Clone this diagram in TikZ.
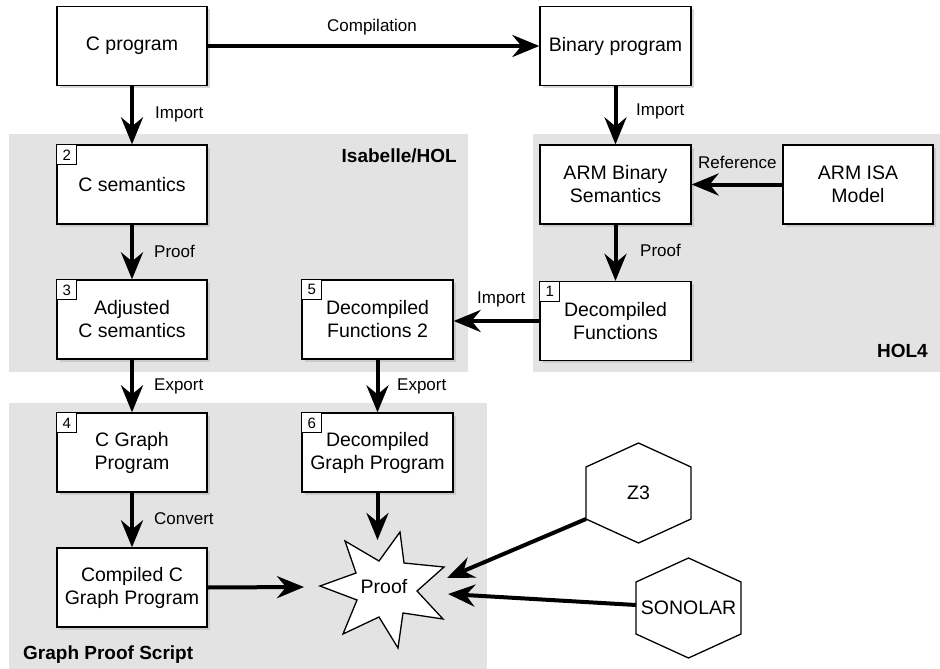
\documentclass[tikz,border=0pt]{standalone}
\usepackage{fontspec}
\setmainfont{Liberation Sans}
\usetikzlibrary{arrows.meta,shadows,calc}
\definecolor{regiongray}{RGB}{227,227,227}
\tikzset{
  mainf/.style={font=\fontsize{19.5}{23}\selectfont},
  box/.style={draw, line width=1.3pt, fill=white, minimum width=150pt, minimum height=79pt,
    inner sep=0pt, align=center, mainf,
    drop shadow={shadow xshift=2.5pt, shadow yshift=-2.5pt, fill=black!30}},
  numbox/.style={draw, line width=1pt, fill=white, minimum size=20pt, inner sep=0pt,
    anchor=north west, font=\fontsize{15}{15}\selectfont},
  arr/.style={line width=4pt, -{Stealth[length=27pt, width=22pt, inset=9pt]}},
  lbl/.style={font=\fontsize{17}{20}\selectfont, inner sep=0pt},
  region/.style={font=\bfseries\fontsize{19}{22}\selectfont, inner sep=0pt},
  shapeline/.style={draw, line width=1.3pt, fill=white, line join=miter},
}
\begin{document}
\begin{tikzpicture}[x=1pt,y=-1pt]
\useasboundingbox (0,0) rectangle (940,669);
% regions
\fill[regiongray] (9,134) rectangle (468,372);
\fill[regiongray] (533,134) rectangle (940,372);
\fill[regiongray] (9,403) rectangle (487,669);
\node[region, anchor=base east] (risa) at (457,162) {Isabelle/HOL};
\node[region, anchor=base east] (rhol) at (928,357) {HOL4};
\node[region, anchor=base west] (rgps) at (23,659) {Graph Proof Script};
% boxes
\node[box] (cprog) at (132,46) {C program};
\node[box, minimum width=151pt] (binprog) at (615.5,46) {Binary program};
\node[box] (csem) at (132,184.5) {C semantics};
\node[box] (adjc) at (132,319.5) {Adjusted\\C semantics};
\node[box, minimum width=151pt] (dec2) at (377.5,319.5) {Decompiled\\Functions 2};
\node[box, minimum width=151pt] (armsem) at (615.5,184.5) {ARM Binary\\Semantics};
\node[box] (armisa) at (858,184.5) {ARM ISA\\Model};
\node[box, minimum width=151pt] (dec1) at (615.5,321) {Decompiled\\Functions};
\node[box] (cgraph) at (132,452.5) {C Graph\\Program};
\node[box, minimum width=151pt] (decgraph) at (377.5,452.5) {Decompiled\\Graph Program};
\node[box] (compiled) at (132,587.5) {Compiled C\\Graph Program};
% number boxes
\node[numbox] (n1) at (dec1.north west) {1};
\node[numbox] (n2) at (csem.north west) {2};
\node[numbox] (n3) at (adjc.north west) {3};
\node[numbox] (n4) at (cgraph.north west) {4};
\node[numbox] (n5) at (dec2.north west) {5};
\node[numbox] (n6) at (decgraph.north west) {6};
% star
\draw[shapeline] (320,586) -- (356,573) -- (345,541) -- (379,561) -- (400,532) -- (404,563)
  -- (444,567) -- (417,591) -- (443,619) -- (403,613) -- (398,648) -- (379,617)
  -- (343,634) -- (357,600) -- cycle;
\node[mainf, inner sep=0pt, anchor=base] (proof) at (384,593) {Proof};
% hexagons
\draw[shapeline] (638.5,443) -- (691,467) -- (691,519) -- (638.5,543) -- (586,519) -- (586,467) -- cycle;
\node[mainf] (z3) at (638.5,493) {Z3};
\draw[shapeline] (688.5,558) -- (741,582) -- (741,634) -- (688.5,658) -- (636,634) -- (636,582) -- cycle;
\node[mainf, inner sep=0pt] (sonolar) at (688.5,608) {SONOLAR};
\coordinate (z3v) at (586,519);
\coordinate (sonv) at (636,605);
\coordinate (pin1) at (377.5,540);
\coordinate (pin2) at (304,587);
\coordinate (pin3) at (447,578);
\coordinate (pin4) at (448,594);
% arrows
\draw[arr] (cprog.east) -- (binprog.west);
\draw[arr] (cprog.south) -- (csem.north);
\draw[arr] (csem.south) -- (adjc.north);
\draw[arr] (adjc.south) -- (cgraph.north);
\draw[arr] (cgraph.south) -- (compiled.north);
\draw[arr] (dec2.south) -- (decgraph.north);
\draw[arr] (binprog.south) -- (armsem.north);
\draw[arr] (armsem.south) -- (dec1.north);
\draw[arr] (armisa.west) -- (armsem.east);
\draw[arr] (dec1.west) -- (dec1.west -| dec2.east);
\draw[arr] (decgraph.south) -- (pin1);
\draw[arr] (compiled.east) -- (pin2);
\draw[arr] (z3v) -- (pin3);
\draw[arr] (sonv) -- (pin4);
% labels
\node[lbl, anchor=base] (lcomp) at (372,32) {Compilation};
\node[lbl, anchor=base west] (limp1) at (155,118) {Import};
\node[lbl, anchor=base west] (lproof1) at (154,257) {Proof};
\node[lbl, anchor=base west] (lexp1) at (154,390) {Export};
\node[lbl, anchor=base west] (lexp2) at (397,390) {Export};
\node[lbl, anchor=base west] (lconv) at (154,524) {Convert};
\node[lbl, anchor=base west] (limp2) at (636,115) {Import};
\node[lbl, anchor=base west] (lref) at (698,168) {Reference};
\node[lbl, anchor=base west] (lproof2) at (640,256) {Proof};
\node[lbl, anchor=base west] (limp3) at (477,303) {Import};
\end{tikzpicture}
\end{document}
